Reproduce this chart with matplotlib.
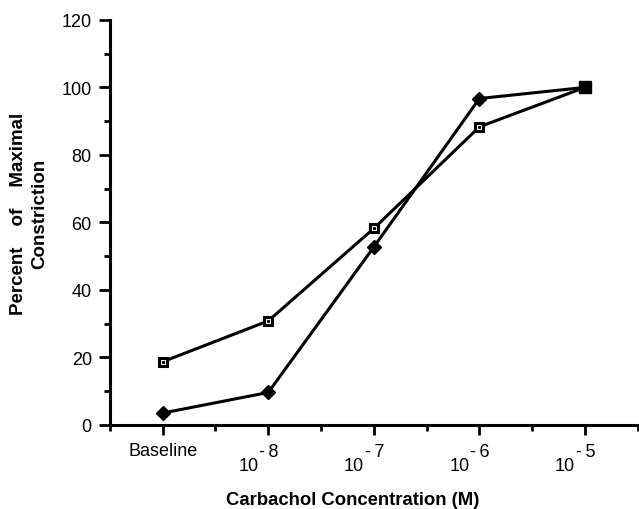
import numpy as np
import matplotlib
matplotlib.use('Agg')
import matplotlib.pyplot as plt
from matplotlib.transforms import ScaledTranslation

plt.rcParams['font.family'] = ['Liberation Sans', 'DejaVu Sans']

# Data
conc_labels = ['Baseline', '10', '10', '10', '10']
conc_exponents = ['', '-\u20098', '-\u20097', '-\u20096', '-\u20095']
filled_vals = [3.5, 9.6, 52.7, 96.7, 100.0]   # filled diamonds
open_vals = [18.7, 30.8, 58.2, 88.3, 100.0]   # open squares

x = np.arange(len(conc_labels))

fig = plt.figure(figsize=(6.39, 5.10), dpi=100)
ax = fig.add_axes([0.172, 0.165, 0.826, 0.794])

# Open squares
ax.plot(x, open_vals, color='black', linewidth=2.2, marker='s', markersize=5.5,
        markerfacecolor='white', markeredgecolor='black', markeredgewidth=2.2, zorder=3)
ax.plot(x, open_vals, linestyle='none', marker='s', markersize=1.2, color='black', zorder=4)
# Filled diamonds (last point hidden under the shared square)
ax.plot(x, filled_vals, color='black', linewidth=2.2, marker='D', markersize=7,
        markevery=[0, 1, 2, 3], markerfacecolor='black', markeredgecolor='black', zorder=3)
# both series meet at the top point -> solid square
ax.plot(x[-1:], open_vals[-1:], linestyle='none', marker='s', markersize=8.5, color='black', zorder=5)

ax.set_xlim(-0.5, 4.5)
ax.set_ylim(0, 120)

ax.set_xticks(x)
ax.set_xticklabels([''] * len(x))
ax.set_xticks(np.arange(-0.5, 4.6, 1), minor=True)
ax.set_yticks(np.arange(0, 121, 20))
ax.set_yticks(np.arange(0, 121, 10), minor=True)
ax.tick_params(axis='y', which='major', length=8, width=2, labelsize=13, pad=5)
ax.tick_params(axis='y', which='minor', length=4, width=2)
ax.tick_params(axis='x', which='major', length=7, width=2)
ax.tick_params(axis='x', which='minor', length=4, width=2)

# x tick labels: "Baseline" and 10 with raised exponents
trans = ax.get_xaxis_transform()
for xi, lab, ex in zip(x, conc_labels, conc_exponents):
    if ex == '':
        t = trans + ScaledTranslation(0, -0.26, fig.dpi_scale_trans)
        ax.text(xi, 0, lab, transform=t, ha='center', va='center', fontsize=13)
    else:
        t1 = trans + ScaledTranslation(-0.10, -0.41, fig.dpi_scale_trans)
        ax.text(xi, 0, lab, transform=t1, ha='right', va='center', fontsize=13)
        t2 = trans + ScaledTranslation(-0.09, -0.27, fig.dpi_scale_trans)
        ax.text(xi, 0, ex, transform=t2, ha='left', va='center', fontsize=13)

for side in ['top', 'right']:
    ax.spines[side].set_visible(False)
for side in ['left', 'bottom']:
    ax.spines[side].set_linewidth(2.2)

fig.text(353 / 639, 1 - 501 / 510, 'Carbachol Concentration (M)', ha='center', va='center',
         fontsize=13.3, fontweight='bold')
fig.text(29 / 639, 1 - 214 / 510, 'Percent    of    Maximal\nConstriction', ha='center', va='center',
         rotation=90, fontsize=13.5, fontweight='bold', linespacing=1.3)

fig.savefig('out.png', dpi=100)
